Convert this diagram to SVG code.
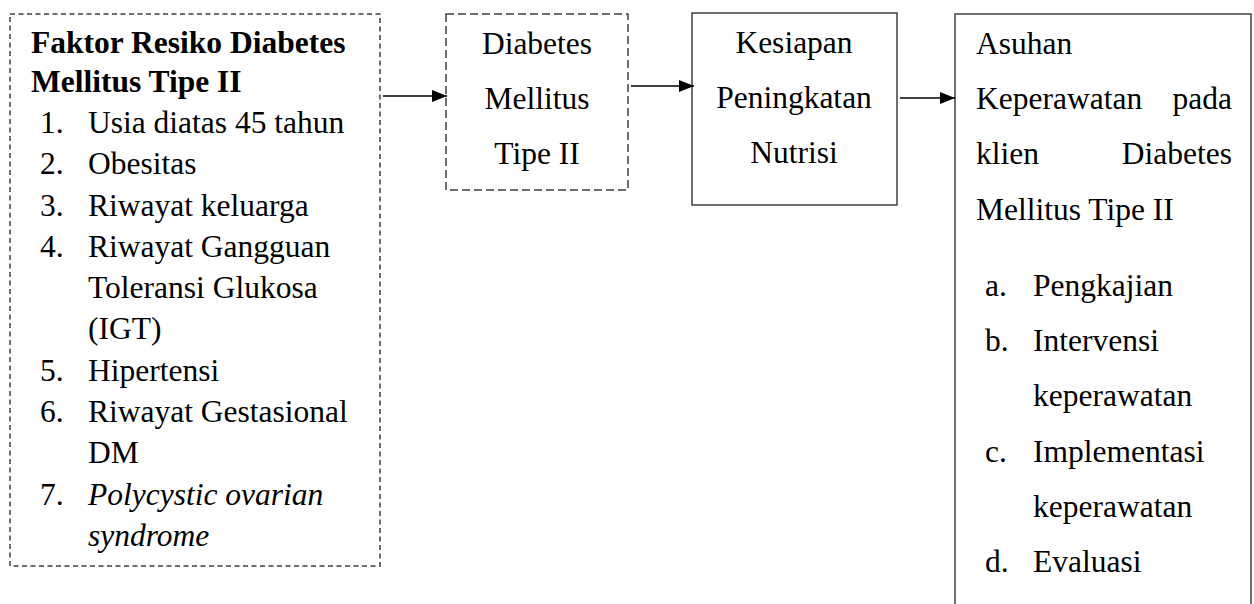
<svg xmlns="http://www.w3.org/2000/svg" width="1254" height="604" viewBox="0 0 1254 604">
<defs>
<style>
text{font-family:"Liberation Serif","Times New Roman",serif;font-size:31.5px;fill:#000}
.b{font-weight:bold}
.i{font-style:italic}
.c{text-anchor:middle}
.e{text-anchor:end}
.dash1{fill:none;stroke:#404040;stroke-width:1.5;stroke-dasharray:5 3.5}
.dash2{fill:none;stroke:#404040;stroke-width:1.5;stroke-dasharray:8 4}
.solid{fill:none;stroke:#333;stroke-width:1.4}
.conn{stroke:#000;stroke-width:1.4;fill:none;marker-end:url(#ah)}
</style>
<marker id="ah" markerWidth="15" markerHeight="12" refX="15" refY="6" orient="auto" markerUnits="userSpaceOnUse">
<path d="M0,0 L15,6 L0,12 Z" fill="#000"/>
</marker>
</defs>
<rect width="1254" height="604" fill="#fff"/>
<g id="node-faktor">
<rect class="dash1" x="10" y="14" width="370" height="552"/>
<text class="b" x="31" y="53">Faktor Resiko Diabetes</text>
<text class="b" x="31" y="92">Mellitus Tipe II</text>
<text x="40" y="133">1.</text><text x="88" y="133">Usia diatas 45 tahun</text>
<text x="40" y="174">2.</text><text x="88" y="174">Obesitas</text>
<text x="40" y="216">3.</text><text x="88" y="216">Riwayat keluarga</text>
<text x="40" y="257">4.</text><text x="88" y="257">Riwayat Gangguan</text>
<text x="88" y="298">Toleransi Glukosa</text>
<text x="88" y="339">(IGT)</text>
<text x="40" y="381">5.</text><text x="88" y="381">Hipertensi</text>
<text x="40" y="422">6.</text><text x="88" y="422">Riwayat Gestasional</text>
<text x="88" y="463">DM</text>
<text x="40" y="505">7.</text><text class="i" x="88" y="505">Polycystic ovarian</text>
<text class="i" x="88" y="546">syndrome</text>
</g>
<g id="node-dm">
<rect class="dash2" x="446" y="14" width="182" height="176"/>
<text class="c" x="537" y="54">Diabetes</text>
<text class="c" x="537" y="109">Mellitus</text>
<text class="c" x="537" y="164">Tipe II</text>
</g>
<g id="node-kesiapan">
<rect class="solid" x="692" y="13" width="205" height="192"/>
<text class="c" x="794" y="53">Kesiapan</text>
<text class="c" x="794" y="108">Peningkatan</text>
<text class="c" x="794" y="163">Nutrisi</text>
</g>
<g id="node-asuhan">
<rect class="solid" x="955" y="14" width="296" height="600"/>
<text x="976" y="54">Asuhan</text>
<text x="976" y="109">Keperawatan</text><text class="e" x="1232" y="109">pada</text>
<text x="976" y="164">klien</text><text class="e" x="1232" y="164">Diabetes</text>
<text x="976" y="220">Mellitus Tipe II</text>
<text x="985" y="296">a.</text><text x="1033" y="296">Pengkajian</text>
<text x="985" y="351">b.</text><text x="1033" y="351">Intervensi</text>
<text x="1033" y="406">keperawatan</text>
<text x="985" y="462">c.</text><text x="1033" y="462">Implementasi</text>
<text x="1033" y="517">keperawatan</text>
<text x="985" y="572">d.</text><text x="1033" y="572">Evaluasi</text>
</g>
<g id="connectors">
<line class="conn" x1="383" y1="96" x2="447" y2="96"/>
<line class="conn" x1="631" y1="86" x2="694" y2="86"/>
<line class="conn" x1="900" y1="98" x2="955" y2="98"/>
</g>
</svg>
